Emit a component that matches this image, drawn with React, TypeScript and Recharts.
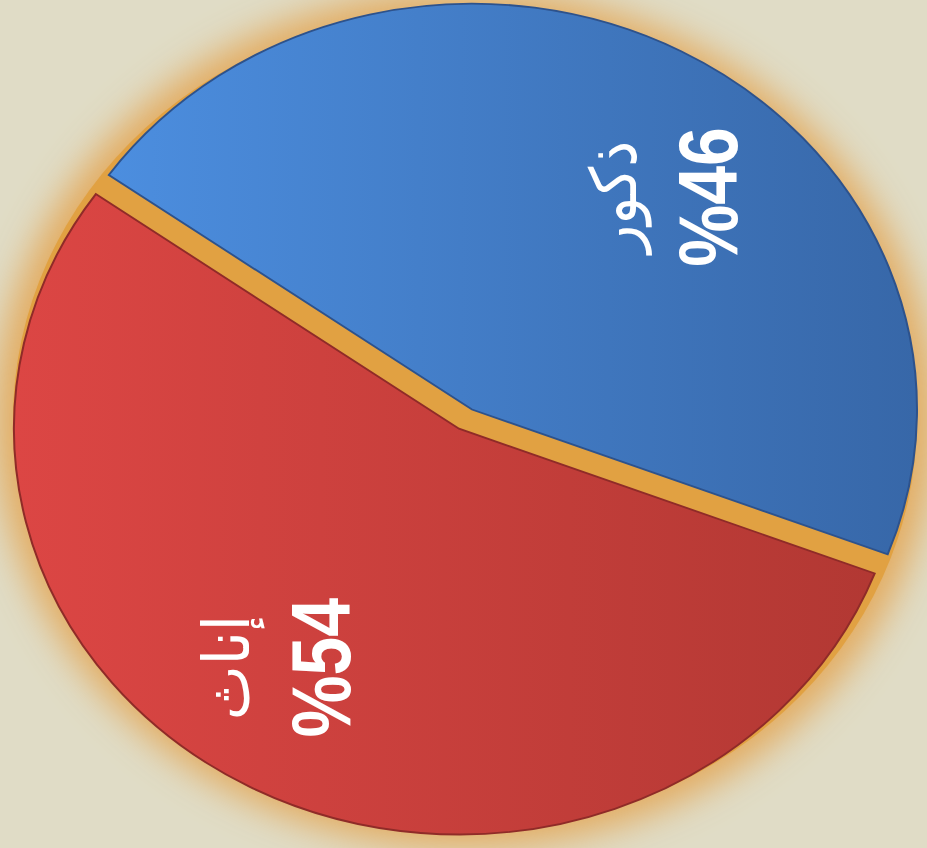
import React from 'react';
import { PieChart, Pie, Cell } from 'recharts';

// share of pupils by gender
const genders = ['ذكور', 'إناث'];
const shares = [46, 54];

const W = 927;
const H = 848;
// the pie is drawn as a circle and then flattened into the ellipse of the picture
const SQUASH = 0.912;
const INNER_H = Math.round(H / SQUASH);
const R = 445;
const START = 144.7;

// blue slice is pulled out a little towards the top right
const CENTERS = [
  { x: 472, y: 449 },
  { x: 459, y: 470 },
];
const FILLS = ['url(#blueFill)', 'url(#redFill)'];
const EDGES = ['#2d528c', '#8f2b28'];
const LABEL_TURN = [-11, -7];
const LABEL_R = [0.675, 0.72];

const data = genders.map((name, i) => ({ name, value: shares[i] }));

const makeLabel = (show: number) => (props: any) => {
  if (props.index !== show) return null;
  const { midAngle, name, value } = props;
  const c = CENTERS[show];
  const a = ((midAngle + LABEL_TURN[show]) * Math.PI) / 180;
  const r = R * LABEL_R[show];
  const x = c.x + r * Math.cos(a);
  const y = c.y - r * Math.sin(a);
  return (
    <g transform={`translate(${x},${y}) rotate(-90)`}>
      <text
        x={0}
        y={-48}
        textAnchor="middle"
        dominantBaseline="central"
        fill="#ffffff"
        fontFamily="'DejaVu Sans', sans-serif"
        fontSize={64}
      >
        {name}
      </text>
      <text
        x={0}
        y={46}
        textAnchor="middle"
        dominantBaseline="central"
        fill="#ffffff"
        fontFamily="'Liberation Sans', Arial, sans-serif"
        fontWeight="bold"
        fontSize={84}
        transform="scale(0.91,1)"
      >
        %{value}
      </text>
    </g>
  );
};

export default function App() {
  return (
    <div
      style={{
        position: 'absolute',
        left: 0,
        top: 0,
        width: W,
        height: H,
        overflow: 'hidden',
        background: '#e0dcc6',
      }}
    >
      <div
        style={{
          position: 'absolute',
          left: 0,
          top: 0,
          width: W,
          height: INNER_H,
          transform: `scaleY(${SQUASH})`,
          transformOrigin: 'top left',
        }}
      >
        {/* orange backing disc with its glow, shows in the gap between slices */}
        <div
          style={{
            position: 'absolute',
            left: 465 - 452,
            top: 460 - 452,
            width: 904,
            height: 904,
            borderRadius: '50%',
            background: '#e1a142',
            boxShadow: '0 0 36px 18px rgba(228, 160, 72, 0.8)',
          }}
        />
        <div style={{ position: 'absolute', left: 0, top: 0 }}>
          <PieChart width={W} height={INNER_H} margin={{ top: 0, right: 0, bottom: 0, left: 0 }}>
            <defs>
              <linearGradient id="blueFill" x1="0" y1="0" x2="1" y2="0">
                <stop offset="0%" stopColor="#4c8edf" />
                <stop offset="100%" stopColor="#3767a8" />
              </linearGradient>
              <linearGradient id="redFill" x1="0" y1="0" x2="1" y2="0">
                <stop offset="0%" stopColor="#dc4644" />
                <stop offset="100%" stopColor="#b23833" />
              </linearGradient>
            </defs>
            {[1, 0].map((show) => (
              <Pie
                key={show}
                data={data}
                dataKey="value"
                nameKey="name"
                cx={CENTERS[show].x}
                cy={CENTERS[show].y}
                outerRadius={R}
                innerRadius={0}
                startAngle={START}
                endAngle={START - 360}
                labelLine={false}
                label={makeLabel(show)}
                isAnimationActive={false}
              >
                {data.map((d, i) => (
                  <Cell
                    key={d.name}
                    fill={i === show ? FILLS[i] : 'none'}
                    stroke={i === show ? EDGES[i] : 'none'}
                    strokeWidth={2}
                  />
                ))}
              </Pie>
            ))}
          </PieChart>
        </div>
      </div>
    </div>
  );
}
